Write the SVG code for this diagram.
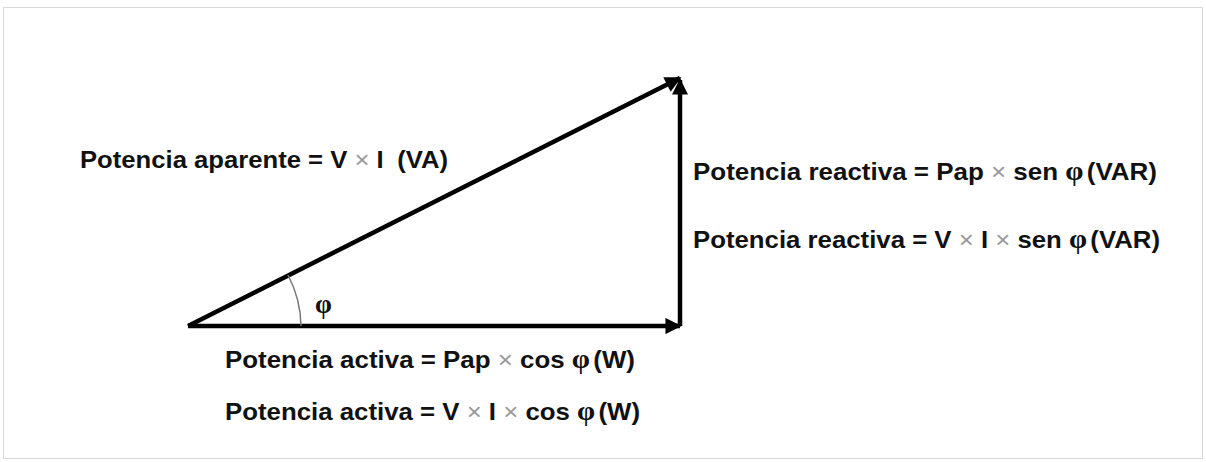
<svg xmlns="http://www.w3.org/2000/svg" width="1206" height="462" viewBox="0 0 1206 462">
<style>
.t{font-family:"Liberation Sans",Arial,sans-serif;font-weight:bold;font-size:24px;fill:#111}
.x{fill:#999;font-weight:normal}
.p{font-family:"Liberation Serif","Times New Roman",serif;font-weight:bold;font-size:27px}
.v{stroke:#000;stroke-width:4.5;fill:none}
</style>
<defs>
<marker id="ah" viewBox="0 0 10 10" refX="9" refY="5" markerWidth="4" markerHeight="3.6" orient="auto" markerUnits="strokeWidth">
<path d="M0,0 L10,5 L0,10 Z" fill="#000"/>
</marker>
</defs>
<rect x="3.5" y="7.5" width="1199" height="451" fill="#fff" stroke="#d8d8d8" stroke-width="1"/>
<g id="connectors">
<line class="v" x1="188" y1="326" x2="680" y2="326" marker-end="url(#ah)"/>
<line class="v" x1="680" y1="326" x2="680" y2="80" marker-end="url(#ah)"/>
<line class="v" x1="188" y1="326" x2="680" y2="78" marker-end="url(#ah)"/>
<path d="M288,275 A113,113 0 0 1 301,326" fill="none" stroke="#777" stroke-width="1.5"/>
</g>
<g id="angle"><text class="t p" x="315" y="313" font-size="28">φ</text></g>
<g id="aparente"><text class="t" x="80" y="168" textLength="368" lengthAdjust="spacingAndGlyphs">Potencia aparente = V <tspan class="x">×</tspan> I <tspan dx="6">(VA)</tspan></text></g>
<g id="reactiva1"><text class="t" x="693" y="180" textLength="464" lengthAdjust="spacingAndGlyphs">Potencia reactiva = Pap <tspan class="x">×</tspan> sen <tspan class="p">φ</tspan><tspan dx="3">(VAR)</tspan></text></g>
<g id="reactiva2"><text class="t" x="693" y="248" textLength="467" lengthAdjust="spacingAndGlyphs">Potencia reactiva = V <tspan class="x">×</tspan> I <tspan class="x">×</tspan> sen <tspan class="p">φ</tspan><tspan dx="3">(VAR)</tspan></text></g>
<g id="activa1"><text class="t" x="225" y="368" textLength="410" lengthAdjust="spacingAndGlyphs">Potencia activa = Pap <tspan class="x">×</tspan> cos <tspan class="p">φ</tspan><tspan dx="3">(W)</tspan></text></g>
<g id="activa2"><text class="t" x="225" y="420" textLength="415" lengthAdjust="spacingAndGlyphs">Potencia activa = V <tspan class="x">×</tspan> I <tspan class="x">×</tspan> cos <tspan class="p">φ</tspan><tspan dx="3">(W)</tspan></text></g>
</svg>
